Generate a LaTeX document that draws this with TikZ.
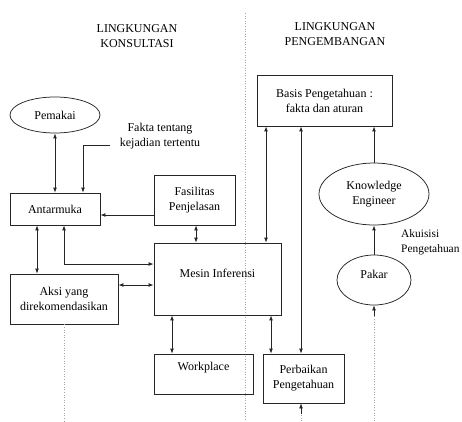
\documentclass[tikz,border=0pt]{standalone}
\usepackage{fontspec}
\setmainfont{Liberation Serif}
\newfontfamily\diagfont{Liberation Serif}
\usetikzlibrary{arrows.meta,shapes.geometric}
\begin{document}
\begin{tikzpicture}[x=1pt,y=-1pt,
  every node/.style={font=\diagfont\fontsize{12}{15}\selectfont, align=center, text=black},
  box/.style={draw=black!85, line width=0.75pt, rectangle, inner sep=0pt},
  oval/.style={draw=black!85, line width=0.75pt, ellipse, inner sep=0pt},
  conn/.style={draw=black!85, line width=0.8pt, {Latex[length=5pt,width=3.8pt]}-{Latex[length=5pt,width=3.8pt]}},
  oneway/.style={draw=black!85, line width=0.8pt, -{Latex[length=5pt,width=3.8pt]}},
  sep/.style={draw=black!35, line width=0.6pt, dotted},
  plain/.style={inner sep=0pt}]
\useasboundingbox (0,0) rectangle (462,421);
\fill[white] (0,0) rectangle (462,421);

% headings
\node[plain] (hk) at (137,36) {LINGKUNGAN\\KONSULTASI};
\node[plain] (hp) at (335,34) {LINGKUNGAN\\PENGEMBANGAN};

% separator
\coordinate (st) at (245,13);
\coordinate (sb) at (245,421);
\draw[sep] (st) -- (sb);

% nodes
\node[oval, minimum width=90pt, minimum height=36pt] (pemakai) at (55,115) {Pemakai};
\node[plain, anchor=center] (fakta) at (160,136) {Fakta tentang\\kejadian tertentu};
\node[box, minimum width=90pt, minimum height=32pt] (antar) at (55,209) {Antarmuka};
\node[box, minimum width=81pt, minimum height=50pt] (fasil) at (194.5,200) {Fasilitas\\Penjelasan};
\node[box, minimum width=127pt, minimum height=72pt] (mesin) at (217.5,279) {};
\node[plain] (mesint) at (217.5,273) {Mesin Inferensi};
\node[box, minimum width=108pt, minimum height=50pt] (aksi) at (64,299) {Aksi yang\\direkomendasikan};
\node[box, minimum width=99pt, minimum height=40pt] (work) at (203.5,374) {};
\node[plain] (workt) at (203.5,368) {Workplace};
\node[box, minimum width=81pt, minimum height=49pt] (perb) at (303.5,378.5) {Perbaikan\\Pengetahuan};
\node[box, minimum width=135pt, minimum height=51pt] (basis) at (324.5,100.5) {Basis Pengetahuan :\\fakta dan aturan};
\node[oval, minimum width=110pt, minimum height=62pt] (ke) at (374,194) {Knowledge\\Engineer};
\node[oval, minimum width=74pt, minimum height=50pt] (pakar) at (374,280) {};
\node[plain] (pakart) at (374,274) {Pakar};
\node[plain, anchor=west, align=left, font=\diagfont\fontsize{11.4}{15}\selectfont] (akui) at (401,242) {Akuisisi\\Pengetahuan};

% helper coordinates
\coordinate (fk) at (110,145);
\coordinate (fx) at (83,0);
\coordinate (ax) at (37,0);
\coordinate (mx) at (64,0);
\coordinate (my) at (0,264);
\coordinate (ay) at (0,285);
\coordinate (fy) at (0,215);
\coordinate (fsx) at (196,0);
\coordinate (wx) at (172,0);
\coordinate (px) at (271,0);
\coordinate (b1) at (266,0);
\coordinate (b2) at (301,0);
\coordinate (dbl) at (64,421);
\coordinate (dbp) at (301,421);
\coordinate (dbk) at (374,421);
\coordinate (tp) at (301,414);
\coordinate (tk) at (374,316);

% connectors
\draw[conn] (pemakai.south) -- (antar.north);
\draw[oneway] (fk) -| (antar.north -| fx);
\draw[oneway] (fasil.west |- fy) -- (antar.east |- fy);
\draw[conn] (fasil.south -| fsx) -- (mesin.north -| fsx);
\draw[conn] (antar.south -| ax) -- (aksi.north -| ax);
\draw[conn] (antar.south -| mx) |- (mesin.west |- my);
\draw[conn] (aksi.east |- ay) -- (mesin.west |- ay);
\draw[conn] (mesin.south -| wx) -- (work.north -| wx);
\draw[conn] (mesin.south -| px) -- (perb.north -| px);
\draw[conn] (basis.south -| b1) -- (mesin.north -| b1);
\draw[conn] (basis.south -| b2) -- (perb.north -| b2);
\draw[oneway] (ke.north) -- (basis.south -| ke.north);
\draw[oneway] (pakar.north) -- (ke.south);

% dotted lines with arrow tips
\draw[sep] (aksi.south -| mx) -- (dbl);
\draw[sep] (dbp) -- (tp);
\draw[oneway, line width=0.6pt] (tp) -- (perb.south -| dbp);
\draw[sep] (dbk) -- (tk);
\draw[oneway, line width=0.6pt] (tk) -- (pakar.south);
\end{tikzpicture}
\end{document}
